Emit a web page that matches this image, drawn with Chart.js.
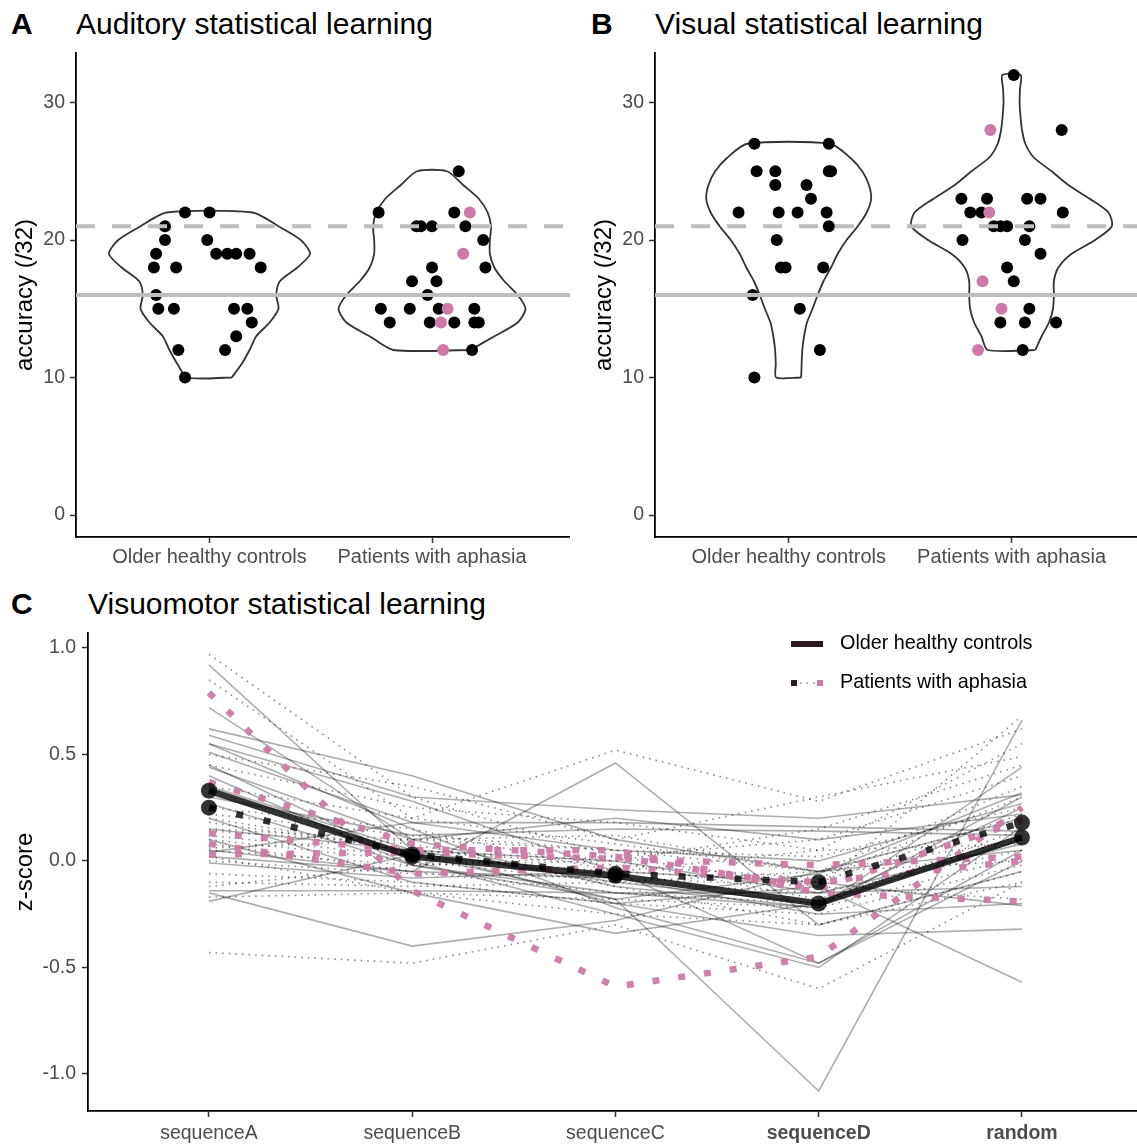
<!DOCTYPE html>
<html>
<head>
<meta charset="utf-8">
<script src="https://cdn.jsdelivr.net/npm/chart.js@4.4.1/dist/chart.umd.min.js"></script>
<style>
  body { margin: 0; width: 1137px; height: 1144px; overflow: hidden; background: #fff; position: relative;
         font-family: 'Liberation Sans', Arial, sans-serif; }
  canvas { position: absolute; }
  .letter { position: absolute; font-size: 30px; font-weight: bold; line-height: 30px; color: #000; }
  .title { position: absolute; font-size: 30px; line-height: 30px; color: #000; white-space: nowrap; }
</style>
</head>
<body>
<div class="letter" style="left:11px; top:9px">A</div>
<div class="title" style="left:76px; top:9px">Auditory statistical learning</div>
<div class="letter" style="left:591px; top:9px">B</div>
<div class="title" style="left:655px; top:9px">Visual statistical learning</div>
<div class="letter" style="left:11px; top:589px">C</div>
<div class="title" style="left:88px; top:589px">Visuomotor statistical learning</div>

<canvas id="chartA" width="570" height="575" style="left:0; top:0"></canvas>
<canvas id="chartB" width="567" height="575" style="left:570px; top:0"></canvas>
<canvas id="chartC" width="1137" height="569" style="left:0; top:575px"></canvas>

<script>
const groups = ['Older healthy controls', 'Patients with aphasia'];
const accuracyTicks = [0, 10, 20, 30];
const chanceLevel = 16;
const upperLevel = 21;
const PINK = '#CC79A7';

// --- Panel A: auditory ---
const audCtrlY = [22, 22, 21, 20, 20, 19, 19, 19, 19, 19, 18, 18, 18, 16, 15, 15, 15, 15, 14, 13, 12, 12, 10];
const audCtrlX = [0.89, 1.00, 0.80, 0.80, 0.99, 0.76, 1.03, 1.08, 1.12, 1.18, 0.75, 0.85, 1.23, 0.76, 0.77, 0.84, 1.11, 1.17, 1.19, 1.12, 0.86, 1.07, 0.89];
const audPatY = [25, 22, 22, 21, 21, 21, 21, 20, 18, 18, 17, 17, 16, 15, 15, 15, 15, 14, 14, 14, 14, 14, 12];
const audPatX = [2.12, 1.76, 2.10, 1.93, 1.95, 2.00, 2.15, 2.23, 2.00, 2.24, 1.91, 2.02, 1.98, 1.77, 1.90, 2.03, 2.19, 1.81, 1.99, 2.10, 2.19, 2.21, 2.18];
const audPinkY = [22, 19, 15, 14, 12];
const audPinkX = [2.17, 2.14, 2.07, 2.04, 2.05];
const audViolinCtrlY = [10, 11, 12, 13, 14, 15, 16, 17, 18, 19, 20, 21, 22];
const audViolinCtrlW = [0.10, 0.145, 0.18, 0.21, 0.27, 0.31, 0.30, 0.316, 0.395, 0.452, 0.41, 0.31, 0.193];
const audViolinPatY = [12, 13, 14, 15, 16, 17, 18, 19, 20, 21, 22, 23, 24, 25];
const audViolinPatW = [0.173, 0.28, 0.385, 0.42, 0.385, 0.325, 0.28, 0.26, 0.26, 0.265, 0.25, 0.21, 0.14, 0.067];

// --- Panel B: visual ---
const visCtrlY = [27, 27, 25, 25, 25, 25, 24, 24, 23, 22, 22, 22, 22, 21, 20, 18, 18, 18, 16, 15, 12, 10];
const visCtrlX = [0.846, 1.18, 0.856, 0.94, 1.18, 1.19, 0.94, 1.08, 1.10, 0.775, 0.955, 1.04, 1.17, 1.18, 0.946, 0.965, 0.986, 1.155, 0.838, 1.05, 1.14, 0.846];
const visPatY = [32, 28, 23, 23, 23, 23, 22, 22, 22, 21, 21, 21, 21, 20, 20, 19, 18, 17, 15, 14, 14, 14, 12];
const visPatX = [2.01, 2.225, 1.775, 1.89, 2.07, 2.13, 1.815, 1.865, 2.23, 1.92, 1.95, 1.98, 2.08, 1.78, 2.06, 2.13, 1.98, 2.01, 2.08, 1.95, 2.06, 2.2, 2.05];
const visPinkY = [28, 22, 17, 15, 12];
const visPinkX = [1.905, 1.90, 1.87, 1.955, 1.85];
const visViolinCtrlY = [10, 11, 12, 13, 14, 15, 16, 17, 18, 19, 20, 21, 22, 23, 24, 25, 26, 27];
const visViolinCtrlW = [0.056, 0.058, 0.061, 0.069, 0.082, 0.107, 0.13, 0.156, 0.19, 0.22, 0.26, 0.31, 0.35, 0.37, 0.36, 0.33, 0.275, 0.186];
const visViolinPatY = [12, 13, 14, 15, 16, 17, 18, 19, 20, 21, 22, 23, 24, 25, 26, 27, 28, 29, 30, 31, 32];
const visViolinPatW = [0.107, 0.135, 0.168, 0.186, 0.19, 0.19, 0.21, 0.27, 0.375, 0.45, 0.435, 0.35, 0.255, 0.18, 0.10, 0.062, 0.047, 0.04, 0.036, 0.038, 0.041];

// --- Panel C: visuomotor ---
const sequences = ['sequenceA', 'sequenceB', 'sequenceC', 'sequenceD', 'random'];
const boldSequences = ['sequenceD', 'random'];
const zTicks = [-1.0, -0.5, 0.0, 0.5, 1.0];
const controlsMean = [0.33, 0.02, -0.07, -0.20, 0.11];
const patientsMean = [0.25, 0.03, -0.06, -0.10, 0.18];
const controlLines = [
  [0.92, 0.05, -0.10, -0.20, 0.10],
  [0.72, 0.10, -0.12, -0.22, 0.30],
  [0.62, 0.40, 0.10, -0.05, 0.20],
  [0.59, 0.30, 0.24, 0.20, 0.31],
  [0.55, 0.28, -0.05, -0.48, 0.05],
  [0.51, 0.18, 0.05, 0.00, 0.27],
  [0.45, 0.00, -0.25, -0.50, 0.16],
  [0.44, 0.10, 0.20, 0.10, 0.22],
  [0.27, -0.02, -0.15, -0.22, 0.44],
  [0.04, 0.18, 0.18, 0.16, 0.14],
  [0.02, -0.05, 0.46, -0.30, -0.05],
  [-0.01, -0.08, -0.05, -0.10, -0.21],
  [-0.14, -0.14, -0.15, -0.15, -0.12],
  [-0.15, -0.40, -0.28, -0.05, 0.05],
  [-0.19, 0.03, -0.18, -1.08, 0.66],
  [0.35, 0.05, -0.20, -0.12, -0.57],
  [0.20, -0.10, -0.20, -0.35, -0.32],
  [0.30, 0.12, 0.15, 0.14, 0.12],
  [0.10, -0.15, -0.34, -0.20, 0.25],
  [0.55, 0.15, -0.22, -0.48, 0.00],
  [0.05, -0.05, -0.08, -0.25, -0.20],
  [0.40, -0.02, -0.18, -0.06, 0.32],
  [0.15, 0.05, 0.00, -0.15, 0.08],
];
const patientLines = [
  [0.97, 0.30, 0.02, -0.12, 0.68],
  [0.85, 0.20, 0.52, 0.28, 0.62],
  [0.50, 0.35, 0.10, 0.30, 0.49],
  [0.20, 0.05, 0.00, 0.15, 0.45],
  [0.15, 0.10, 0.12, -0.05, 0.35],
  [0.12, 0.02, -0.05, -0.10, 0.22],
  [0.10, 0.00, -0.10, -0.15, 0.05],
  [0.08, -0.05, -0.15, -0.20, 0.15],
  [0.06, 0.10, 0.05, -0.05, 0.10],
  [0.18, 0.05, -0.02, -0.08, 0.30],
  [-0.06, -0.10, -0.20, -0.25, -0.02],
  [-0.10, -0.12, -0.10, -0.05, 0.20],
  [-0.17, -0.15, -0.25, -0.30, -0.10],
  [-0.43, -0.48, -0.30, -0.60, -0.10],
  [0.25, 0.15, -0.05, 0.05, 0.55],
  [0.35, 0.20, 0.08, -0.05, 0.00],
  [0.05, -0.02, 0.02, 0.10, 0.40],
  [0.00, -0.06, -0.08, -0.12, -0.18],
  [0.22, 0.12, 0.05, 0.02, 0.25],
  [-0.12, -0.02, 0.00, -0.18, 0.12],
  [0.45, 0.25, 0.18, 0.05, 0.08],
  [0.14, 0.08, -0.12, -0.30, -0.05],
  [0.02, -0.15, -0.18, -0.22, 0.02],
];
const pinkLines = [
  [0.79, -0.14, -0.59, -0.45, 0.25],
  [0.37, 0.08, 0.02, -0.13, 0.19],
  [0.13, 0.05, 0.05, -0.15, -0.19],
  [0.08, -0.06, -0.03, -0.10, 0.00],
  [0.03, 0.04, 0.01, -0.02, 0.02],
];

Chart.defaults.font.family = "'Liberation Sans', Arial, sans-serif";
Chart.defaults.animation = false;

const TICK_COLOR = '#4d4d4d';

function toPoints(xs, ys) {
  return ys.map((y, i) => ({ x: xs[i], y }));
}

function violinOutline(ys, ws, center) {
  const right = ys.map((y, i) => ({ x: center + ws[i], y }));
  const left = ys.map((y, i) => ({ x: center - ws[i], y })).reverse();
  return [...right, ...left, right[0]];
}

function hline(y, xMin, xMax, dashed) {
  return {
    type: 'line', order: 0,
    data: [{ x: xMin, y }, { x: xMax, y }],
    borderColor: '#bebebe', borderWidth: 4,
    borderDash: dashed ? [19, 17] : [],
    pointRadius: 0,
  };
}

// keep the plot area exactly where ggplot put it
function fixX(height) {
  return s => { s.height = height; s.paddingLeft = 0; s.paddingRight = 0; };
}

function violinChart(id, xMax, leftWidth, ctrl, pat, violins) {
  const xMin = 0.4;
  const datasets = [
    hline(upperLevel, xMin, xMax, true),
    hline(chanceLevel, xMin, xMax, false),
    { type: 'scatter', order: 1, data: toPoints(pat.pinkX, pat.pinkY),
      backgroundColor: PINK, borderWidth: 0, pointRadius: 6 },
    { type: 'scatter', order: 1, data: toPoints(pat.x, pat.y),
      backgroundColor: '#000', borderWidth: 0, pointRadius: 6 },
    { type: 'scatter', order: 1, data: toPoints(ctrl.x, ctrl.y),
      backgroundColor: '#000', borderWidth: 0, pointRadius: 6 },
  ];
  violins.forEach(v => datasets.push({
    type: 'line', order: 2,
    data: violinOutline(v.y, v.w, v.center),
    borderColor: '#333', borderWidth: 1.8, tension: 0.25,
    pointRadius: 0, fill: false,
  }));

  new Chart(document.getElementById(id), {
    data: { datasets },
    options: {
      responsive: false,
      layout: { autoPadding: false, padding: { top: 53, right: 0, left: 0, bottom: 0 } },
      plugins: { legend: { display: false }, tooltip: { enabled: false } },
      scales: {
        x: {
          type: 'linear', min: xMin, max: xMax,
          afterFit: fixX(38),
          afterBuildTicks: s => { s.ticks = [1, 2].map(v => ({ value: v })); },
          ticks: { callback: v => groups[v - 1], color: TICK_COLOR, font: { size: 20 },
                   padding: 2, autoSkip: false, maxRotation: 0 },
          grid: { drawOnChartArea: false, tickLength: 6, tickColor: '#333', tickWidth: 1.5 },
          border: { color: '#000', width: 1.8 },
        },
        y: {
          type: 'linear', min: -1.6, max: 33.6,
          afterFit: s => { s.width = leftWidth; },
          afterBuildTicks: s => { s.ticks = accuracyTicks.map(v => ({ value: v })); },
          ticks: { color: TICK_COLOR, font: { size: 19.5 }, padding: 5 },
          grid: { drawOnChartArea: false, tickLength: 6, tickColor: '#333', tickWidth: 1.5 },
          border: { color: '#000', width: 1.8 },
          title: { display: true, text: 'accuracy (/32)', color: '#000', font: { size: 24 },
                   padding: { top: leftWidth - 65, bottom: 0 } },
        },
      },
    },
  });
}

violinChart('chartA', 2.62, 76,
  { x: audCtrlX, y: audCtrlY },
  { x: audPatX, y: audPatY, pinkX: audPinkX, pinkY: audPinkY },
  [ { y: audViolinCtrlY, w: audViolinCtrlW, center: 1 },
    { y: audViolinPatY, w: audViolinPatW, center: 2 } ]);

violinChart('chartB', 2.563, 85,
  { x: visCtrlX, y: visCtrlY },
  { x: visPatX, y: visPatY, pinkX: visPinkX, pinkY: visPinkY },
  [ { y: visViolinCtrlY, w: visViolinCtrlW, center: 1 },
    { y: visViolinPatY, w: visViolinPatW, center: 2 } ]);

// --- Panel C chart ---
const seqPoints = vals => vals.map((v, i) => ({ x: i, y: v }));
const lineDatasets = [];
controlLines.forEach(l => lineDatasets.push({
  type: 'line', order: 5, data: seqPoints(l),
  borderColor: 'rgba(0,0,0,0.32)', borderWidth: 1.6, pointRadius: 0, tension: 0,
}));
patientLines.forEach(l => lineDatasets.push({
  type: 'line', order: 4, data: seqPoints(l),
  borderColor: 'rgba(0,0,0,0.45)', borderWidth: 1.6, borderDash: [1.6, 5],
  pointRadius: 0, tension: 0,
}));
pinkLines.forEach(l => lineDatasets.push({
  type: 'line', order: 3, data: seqPoints(l),
  borderColor: 'rgba(204,121,167,0.95)', borderWidth: 6.5, borderDash: [7, 19],
  borderCapStyle: 'butt', pointRadius: 0, tension: 0,
}));
lineDatasets.push({
  type: 'line', order: 1, data: seqPoints(patientsMean),
  borderColor: 'rgba(0,0,0,0.8)', borderWidth: 6.5, borderDash: [7, 21], borderCapStyle: 'butt',
  pointRadius: 8, pointBackgroundColor: 'rgba(0,0,0,0.8)', pointBorderWidth: 0, tension: 0,
});
lineDatasets.push({
  type: 'line', order: 0, data: seqPoints(controlsMean),
  borderColor: 'rgba(0,0,0,0.8)', borderWidth: 6.5,
  pointRadius: 8, pointBackgroundColor: 'rgba(0,0,0,0.8)', pointBorderWidth: 0, tension: 0,
});

const legendC = {
  id: 'legendC',
  afterDraw(chart) {
    const ctx = chart.ctx;
    const y1 = 69, y2 = 108;
    ctx.save();
    // controls key
    ctx.strokeStyle = '#2b1a22';
    ctx.lineWidth = 6;
    ctx.lineCap = 'butt';
    ctx.beginPath(); ctx.moveTo(791, y1); ctx.lineTo(823, y1); ctx.stroke();
    // patients key
    ctx.beginPath(); ctx.moveTo(791, y2); ctx.lineTo(797, y2); ctx.stroke();
    ctx.strokeStyle = PINK;
    ctx.beginPath(); ctx.moveTo(817, y2); ctx.lineTo(823, y2); ctx.stroke();
    ctx.strokeStyle = 'rgba(0,0,0,0.45)';
    ctx.lineWidth = 1.6;
    ctx.setLineDash([1.6, 5]);
    ctx.beginPath(); ctx.moveTo(800, y2); ctx.lineTo(815, y2); ctx.stroke();
    ctx.setLineDash([]);
    ctx.fillStyle = '#000';
    ctx.font = "19.8px 'Liberation Sans', Arial, sans-serif";
    ctx.textBaseline = 'middle';
    ctx.fillText(groups[0], 840, y1);
    ctx.fillText(groups[1], 840, y2);
    ctx.restore();
  },
};

new Chart(document.getElementById('chartC'), {
  data: { datasets: lineDatasets },
  options: {
    responsive: false,
    layout: { autoPadding: false, padding: { top: 58, right: 0, left: 0, bottom: 0 } },
    plugins: { legend: { display: false }, tooltip: { enabled: false } },
    scales: {
      x: {
        type: 'linear', min: -0.595, max: 4.566,
        afterFit: fixX(33),
        afterBuildTicks: s => { s.ticks = sequences.map((_, i) => ({ value: i })); },
        ticks: {
          callback: v => sequences[v], color: TICK_COLOR, padding: 5, autoSkip: false, maxRotation: 0,
          font: c => ({ size: 19.5,
            weight: c.tick && boldSequences.includes(sequences[c.tick.value]) ? 'bold' : 'normal' }),
        },
        grid: { drawOnChartArea: false, tickLength: 6, tickColor: '#333', tickWidth: 1.5 },
        border: { color: '#000', width: 1.8 },
      },
      y: {
        type: 'linear', min: -1.174, max: 1.07,
        afterFit: s => { s.width = 88; },
        afterBuildTicks: s => { s.ticks = zTicks.map(v => ({ value: v })); },
        ticks: { callback: v => v.toFixed(1), color: TICK_COLOR, font: { size: 19.5 }, padding: 6 },
        grid: { drawOnChartArea: false, tickLength: 6, tickColor: '#333', tickWidth: 1.5 },
        border: { color: '#000', width: 1.8 },
        title: { display: true, text: 'z-score', color: '#000', font: { size: 24 },
                 padding: { top: 11, bottom: 0 } },
      },
    },
  },
  plugins: [legendC],
});
</script>
</body>
</html>
